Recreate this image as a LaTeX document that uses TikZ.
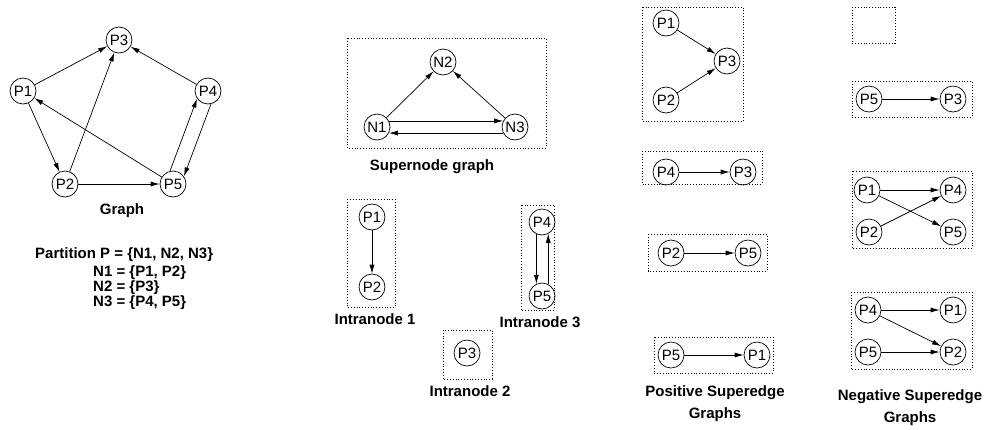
\documentclass[tikz,border=0pt]{standalone}
\usepackage{fontspec}
\setmainfont{Liberation Sans}
\usetikzlibrary{arrows.meta}
\begin{document}
\begin{tikzpicture}[x=1pt,y=-1pt,
  pnode/.style={circle,draw,line width=0.7pt,minimum size=26pt,inner sep=0pt,font=\fontsize{15}{16}\selectfont},
  arr/.style={-{Latex[length=9pt,width=5pt]},line width=0.7pt},
  dbox/.style={draw,dotted,line width=0.8pt},
  lbl/.style={font=\fontsize{15}{17}\selectfont\bfseries},
  ptxt/.style={font=\fontsize{15}{16}\selectfont\bfseries,anchor=west,inner sep=0pt}]
\useasboundingbox (0,0) rectangle (984,429);
% ---------------- Graph
\node[pnode] (g3) at (119,40) {P3};
\node[pnode] (g1) at (23,91) {P1};
\node[pnode] (g4) at (208,91) {P4};
\node[pnode] (g2) at (65,184) {P2};
\node[pnode] (g5) at (173,184) {P5};
\draw[arr] (g1) -- (g3);
\draw[arr] (g1) -- (g2);
\draw[arr] (g2) -- (g3);
\draw[arr] (g2) -- (g5);
\draw[arr] (g5) -- (g1);
\draw[arr] (g4) -- (g3);
\draw[arr] (g5.103) -- (g4.215);
\draw[arr] (g4.283) -- (g5.35);
\node[lbl] (glbl) at (122,211) {Graph};
\node[ptxt] (pa) at (35,255) {Partition P = \{N1, N2, N3\}};
\node[ptxt] (pb) at (93,273) {N1 = \{P1, P2\}};
\node[ptxt] (pc) at (93,288) {N2 = \{P3\}};
\node[ptxt] (pd) at (93,303) {N3 = \{P4, P5\}};
% ---------------- Supernode graph
\draw[dbox] (347,38) rectangle (546,148);
\node[pnode] (n2) at (443,62) {N2};
\node[pnode] (n1) at (377,127) {N1};
\node[pnode] (n3) at (515,127) {N3};
\draw[arr] (n1) -- (n2);
\draw[arr] (n3) -- (n2);
\draw[arr] (n1.27) -- (n3.153);
\draw[arr] (n3.207) -- (n1.333);
\node[lbl] (snl) at (432,167) {Supernode graph};
% ---------------- Intranodes
\draw[dbox] (347,199) rectangle (395,307);
\node[pnode] (i1a) at (372,217) {P1};
\node[pnode] (i1b) at (372,287) {P2};
\draw[arr] (i1a) -- (i1b);
\node[lbl] (i1l) at (375,319) {Intranode 1};
\draw[dbox] (443,330) rectangle (492,379);
\node[pnode] (i2a) at (467,353) {P3};
\node[lbl] (i2l) at (470,391) {Intranode 2};
\draw[dbox] (521,205) rectangle (554,310);
\node[pnode] (i3a) at (542,222) {P4};
\node[pnode] (i3b) at (542,296) {P5};
\draw[arr] (i3a.245) -- (i3b.115);
\draw[arr] (i3b.62) -- (i3a.298);
\node[lbl] (i3l) at (540,322) {Intranode 3};
% ---------------- Positive superedge graphs
\draw[dbox] (642,7) rectangle (743,121);
\node[pnode] (pa1) at (666,23) {P1};
\node[pnode] (pa2) at (666,100) {P2};
\node[pnode] (pa3) at (727,61) {P3};
\draw[arr] (pa1) -- (pa3);
\draw[arr] (pa2) -- (pa3);
\draw[dbox] (642,151) rectangle (762,184);
\node[pnode] (pb4) at (666,172) {P4};
\node[pnode] (pb3) at (743,172) {P3};
\draw[arr] (pb4) -- (pb3);
\draw[dbox] (648,234) rectangle (767,271);
\node[pnode] (pc2) at (671,253) {P2};
\node[pnode] (pc5) at (748,253) {P5};
\draw[arr] (pc2) -- (pc5);
\draw[dbox] (654,337) rectangle (773,373);
\node[pnode] (pd5) at (671,355) {P5};
\node[pnode] (pd1) at (757,355) {P1};
\draw[arr] (pd5) -- (pd1);
\node[lbl] (posl1) at (715,393) {Positive Superedge};
\node[lbl] (posl2) at (715,415) {Graphs};
% ---------------- Negative superedge graphs
\draw[dbox] (852,7) rectangle (895,43);
\draw[dbox] (852,81) rectangle (972,117);
\node[pnode] (na5) at (869,99) {P5};
\node[pnode] (na3) at (953,99) {P3};
\draw[arr] (na5) -- (na3);
\draw[dbox] (852,171) rectangle (972,248);
\node[pnode] (nb1) at (867,190) {P1};
\node[pnode] (nb4) at (953,190) {P4};
\node[pnode] (nb2) at (869,232) {P2};
\node[pnode] (nb5) at (953,232) {P5};
\draw[arr] (nb1) -- (nb4);
\draw[arr] (nb1) -- (nb5);
\draw[arr] (nb2) -- (nb4);
\draw[dbox] (851,292) rectangle (972,369);
\node[pnode] (nc4) at (868,310) {P4};
\node[pnode] (nc1) at (953,310) {P1};
\node[pnode] (nc5) at (868,352) {P5};
\node[pnode] (nc2) at (953,352) {P2};
\draw[arr] (nc4) -- (nc1);
\draw[arr] (nc4) -- (nc2);
\draw[arr] (nc5) -- (nc2);
\node[lbl] (negl1) at (910,397) {Negative Superedge};
\node[lbl] (negl2) at (910,419) {Graphs};
\end{tikzpicture}
\end{document}
